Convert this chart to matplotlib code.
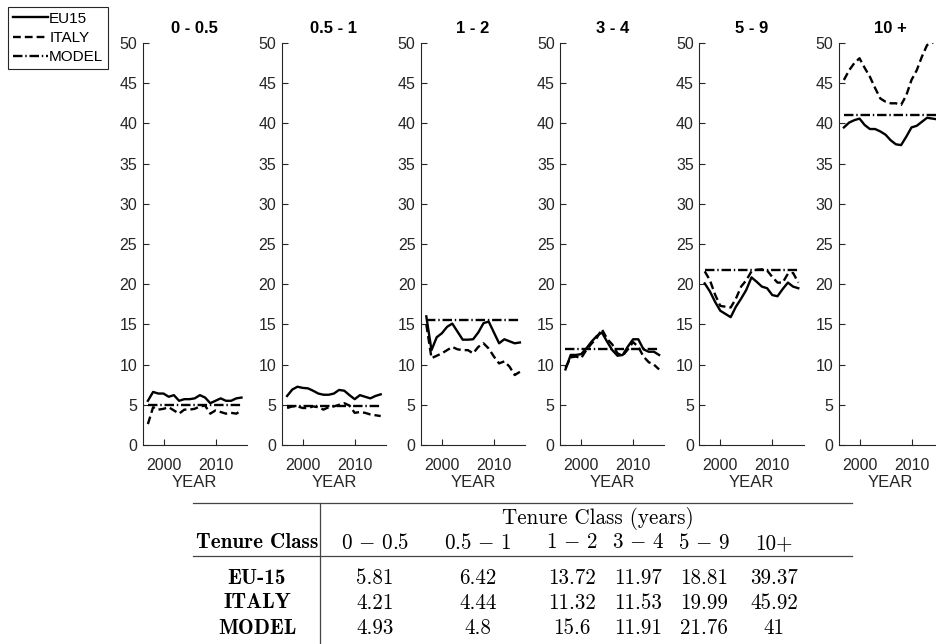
import numpy as np
import matplotlib.pyplot as plt
from matplotlib.lines import Line2D

plt.rcParams['mathtext.fontset'] = 'cm'
plt.rcParams['font.family'] = ['Liberation Sans', 'DejaVu Sans']

years = list(range(1997, 2016))
classes = ['0 - 0.5', '0.5 - 1', '1 - 2', '3 - 4', '5 - 9', '10 +']

# yearly shares (%)
eu15_c1 = [5.5, 6.6, 6.4, 6.4, 6.0, 6.2, 5.5, 5.7, 5.7, 5.8, 6.2, 5.9, 5.2, 5.5, 5.8, 5.5, 5.5, 5.8, 5.9]
italy_c1 = [2.6, 4.7, 4.4, 4.5, 4.7, 4.3, 3.9, 4.4, 4.4, 4.5, 4.8, 4.9, 3.9, 4.3, 4.1, 3.9, 4.0, 3.9, 4.3]
eu15_c2 = [6.1, 6.9, 7.25, 7.1, 7.05, 6.75, 6.4, 6.25, 6.25, 6.4, 6.85, 6.75, 6.2, 5.7, 6.2, 6.0, 5.8, 6.1, 6.3]
italy_c2 = [4.6, 4.8, 4.8, 4.6, 4.6, 4.8, 4.7, 4.4, 4.7, 4.8, 5.0, 5.2, 4.9, 4.0, 4.1, 4.0, 3.8, 3.7, 3.6]
eu15_c3 = [16.0, 11.8, 13.4, 13.9, 14.7, 15.1, 14.1, 13.1, 13.1, 13.15, 14.0, 15.15, 15.35, 14.0, 12.65, 13.15, 12.9, 12.65, 12.75]
italy_c3 = [15.0, 10.8, 11.1, 11.4, 11.8, 12.2, 11.9, 11.8, 11.8, 11.4, 12.2, 12.65, 12.0, 11.0, 10.15, 10.4, 9.75, 8.7, 9.1]
eu15_c4 = [9.4, 11.2, 11.2, 11.3, 12.0, 12.85, 13.55, 14.0, 12.85, 11.8, 11.1, 11.2, 12.25, 13.15, 13.15, 11.9, 11.6, 11.6, 11.2]
italy_c4 = [9.6, 10.9, 11.0, 10.8, 11.8, 12.6, 13.3, 14.4, 13.2, 12.5, 11.4, 11.1, 11.9, 12.8, 12.2, 11.0, 10.3, 10.0, 9.4]
eu15_c5 = [20.1, 19.1, 17.8, 16.7, 16.3, 15.9, 17.2, 18.2, 19.3, 20.85, 20.3, 19.7, 19.5, 18.65, 18.5, 19.4, 20.2, 19.7, 19.5]
italy_c5 = [21.6, 20.5, 18.7, 17.3, 17.2, 17.1, 18.2, 19.7, 20.5, 21.6, 21.8, 21.85, 21.7, 20.9, 20.2, 20.2, 21.3, 21.4, 20.2]
eu15_c6 = [39.5, 40.1, 40.4, 40.6, 39.8, 39.3, 39.3, 39.0, 38.6, 37.9, 37.4, 37.3, 38.35, 39.5, 39.7, 40.2, 40.7, 40.6, 40.5]
italy_c6 = [45.4, 46.6, 47.5, 48.1, 46.9, 45.8, 44.4, 43.1, 42.7, 42.5, 42.5, 42.3, 43.5, 45.4, 46.6, 48.3, 49.75, 50.0, 51.0]

model = [4.93, 4.8, 15.6, 11.91, 21.76, 41]

# table
table_cols = [r'$0\,-\,0.5$', r'$0.5\,-\,1$', r'$1\,-\,2$', r'$3\,-\,4$', r'$5\,-\,9$', '10+']
row_names = ['EU-15', 'ITALY', 'MODEL']
eu15_avg = ['5.81', '6.42', '13.72', '11.97', '18.81', '39.37']
italy_avg = ['4.21', '4.44', '11.32', '11.53', '19.99', '45.92']
model_avg = ['4.93', '4.8', '15.6', '11.91', '21.76', '41']

eu15_all = [eu15_c1, eu15_c2, eu15_c3, eu15_c4, eu15_c5, eu15_c6]
italy_all = [italy_c1, italy_c2, italy_c3, italy_c4, italy_c5, italy_c6]

W, H = 937, 644
fig = plt.figure(figsize=(W / 100, H / 100), dpi=100)


def fx(x):
    return x / W


def fy(y):
    return 1 - y / H


axcol = '#262626'
lw = 1.7
dash = (3.3, 1.7)
dashdot = (4.0, 1.2, 0.6, 1.2)

handles = []
for i in range(6):
    left = 142.7 + 139.2 * i
    ax = fig.add_axes([fx(left), fy(445), 104 / W, 402 / H])
    h1, = ax.plot(years, eu15_all[i], color='black', lw=lw, label='EU15')
    h2, = ax.plot(years, italy_all[i], color='black', lw=lw, dashes=dash, label='ITALY')
    h3, = ax.plot([years[0], years[-1]], [model[i], model[i]], color='black', lw=lw,
                  dashes=dashdot, label='MODEL')
    if i == 0:
        handles = [h1, h2, h3]
    ax.set_xlim(1996, 2016)
    ax.set_ylim(0, 50)
    ax.set_yticks(np.arange(0, 51, 5))
    ax.set_xticks([2000, 2010])
    ax.spines['top'].set_visible(False)
    ax.spines['right'].set_visible(False)
    for s in ['left', 'bottom']:
        ax.spines[s].set_color(axcol)
        ax.spines[s].set_linewidth(0.8)
    ax.tick_params(direction='in', length=4, width=0.8, colors=axcol, labelsize=11.5)
    ax.tick_params(axis='x', pad=9)
    ax.tick_params(axis='y', pad=4)
    ax.set_title(classes[i], fontsize=12, fontweight='bold', pad=7)
    ax.set_xlabel('YEAR', fontsize=12, color=axcol, labelpad=2)

leg = fig.legend(handles, ['EU15', 'ITALY', 'MODEL'], loc='upper left',
                 bbox_to_anchor=(fx(8), fy(7)), fontsize=11, frameon=True,
                 fancybox=False, framealpha=1, edgecolor=axcol, handlelength=2.3,
                 handletextpad=0.1, labelspacing=0.35, borderpad=0.3,
                 borderaxespad=0)
leg.get_frame().set_linewidth(0.8)

# table lines
tcol = '#444444'
for y in [503, 556]:
    fig.add_artist(Line2D([fx(193), fx(852)], [fy(y), fy(y)], transform=fig.transFigure,
                          color=tcol, lw=0.9))
fig.add_artist(Line2D([fx(320), fx(320)], [fy(503), fy(644)], transform=fig.transFigure,
                      color=tcol, lw=0.9))

fs = 15.2
col_x = [375, 478, 572, 638, 704, 774]
fig.text(fx(598), fy(518), 'Tenure Class (years)', family='cmr10', fontsize=fs,
         ha='center', va='center')
fig.text(fx(257), fy(543), 'Tenure Class', family='cmb10', fontsize=fs,
         ha='center', va='center')
for x, c in zip(col_x, table_cols):
    fam = 'cmr10' if not c.startswith('$') else None
    fig.text(fx(x), fy(543), c, family=fam, fontsize=fs, ha='center', va='center')

row_y = [578, 603, 628]
for y, name, vals in zip(row_y, row_names, [eu15_avg, italy_avg, model_avg]):
    fig.text(fx(257), fy(y), name, family='cmb10', fontsize=fs, ha='center', va='center')
    for x, v in zip(col_x, vals):
        fig.text(fx(x), fy(y), v, family='cmr10', fontsize=fs, ha='center', va='center')

fig.savefig('out.png', dpi=100)
